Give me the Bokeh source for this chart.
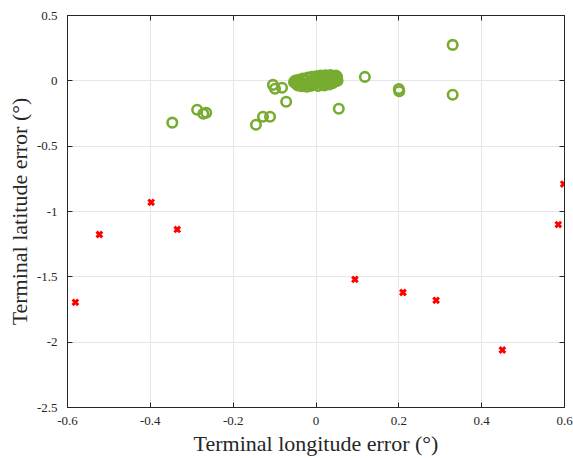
from bokeh.plotting import figure
from bokeh.models import FixedTicker, LinearAxis, Range1d
from bokeh.embed import file_html
from bokeh.resources import INLINE

# Scattered green results (longitude error, latitude error), degrees
green_x = [0.33, 0.118, 0.200, 0.201, 0.33, 0.055, -0.347, -0.287, -0.272, -0.265,
           -0.104, -0.099, -0.082, -0.072, -0.145, -0.128, -0.111]
green_y = [0.275, 0.030, -0.062, -0.080, -0.107, -0.214, -0.320, -0.221, -0.252, -0.244,
           -0.031, -0.061, -0.053, -0.160, -0.336, -0.275, -0.275]

# Dense green cluster near the origin
cluster_x = [-0.053, -0.050, -0.048, -0.044, -0.042, -0.038, -0.035, -0.032, -0.028, -0.025,
             -0.022, -0.020, -0.016, -0.013, -0.010, -0.007, -0.004, 0.000, 0.002, 0.005,
             0.008, 0.011, 0.014, 0.017, 0.020, 0.023, 0.026, 0.029, 0.032, 0.035,
             0.037, 0.040, 0.043, 0.046, 0.048, 0.050, 0.052, 0.051, -0.046, -0.030,
             -0.018, -0.002, 0.012, 0.024, 0.038, 0.044]
cluster_y = [-0.010, 0.002, -0.022, -0.035, 0.008, -0.012, -0.042, 0.018, -0.025, 0.000,
             -0.045, 0.025, -0.015, -0.040, 0.030, 0.008, -0.030, 0.035, -0.010, -0.040,
             0.020, 0.040, -0.025, 0.005, -0.035, 0.042, 0.022, -0.012, -0.028, 0.045,
             0.010, -0.018, 0.030, -0.005, 0.040, 0.015, 0.000, 0.030, -0.008, 0.005,
             -0.028, 0.015, -0.005, 0.000, 0.035, 0.010]

# Red failed cases
red_x = [-0.581, -0.523, -0.398, -0.335, 0.094, 0.21, 0.29, 0.45, 0.585, 0.598]
red_y = [-1.695, -1.176, -0.93, -1.137, -1.52, -1.62, -1.68, -2.06, -1.10, -0.79]

x_ticks = [-0.6, -0.4, -0.2, 0, 0.2, 0.4, 0.6]
x_tick_labels = ["-0.6", "-0.4", "-0.2", "0", "0.2", "0.4", "0.6"]
y_ticks = [0.5, 0, -0.5, -1, -1.5, -2, -2.5]
y_tick_labels = ["0.5", "0", "-0.5", "-1", "-1.5", "-2", "-2.5"]

FONT = "Liberation Serif"
AX = "#262626"

p = figure(frame_width=497, frame_height=392, width=573, height=458,
           x_range=Range1d(-0.6, 0.6), y_range=Range1d(-2.5, 0.5),
           output_backend="svg", toolbar_location=None,
           min_border_left=67, min_border_right=9, min_border_top=15, min_border_bottom=51)
p.outline_line_color = AX
p.outline_line_width = 1
p.background_fill_color = "white"
p.border_fill_color = "white"

xa = p.xaxis[0]
ya = p.yaxis[0]
xa.ticker = FixedTicker(ticks=x_ticks)
xa.major_label_overrides = {t: l for t, l in zip(x_ticks, x_tick_labels)}
xa.axis_label = "Terminal longitude error (°)"
ya.ticker = FixedTicker(ticks=y_ticks)
ya.major_label_overrides = {t: l for t, l in zip(y_ticks, y_tick_labels)}
ya.axis_label = "Terminal latitude error (°)"

for ax in (xa, ya):
    ax.axis_line_color = AX
    ax.major_tick_line_color = AX
    ax.major_tick_in = 5
    ax.major_tick_out = 0
    ax.minor_tick_line_color = None
    ax.major_label_text_font = FONT
    ax.major_label_text_font_size = "13px"
    ax.major_label_text_color = AX
    ax.axis_label_text_font = FONT
    ax.axis_label_text_font_size = "22px"
    ax.axis_label_text_font_style = "normal"
    ax.axis_label_text_color = AX
xa.major_label_standoff = 9
xa.axis_label_standoff = 3
ya.major_label_standoff = 10
ya.axis_label_standoff = 2

for side, ticks in (("above", x_ticks), ("right", y_ticks)):
    a = LinearAxis(ticker=FixedTicker(ticks=ticks),
                   major_label_overrides={t: "" for t in ticks},
                   major_tick_in=5, major_tick_out=0, minor_tick_line_color=None,
                   axis_line_color=AX, major_tick_line_color=AX, major_label_standoff=0)
    p.add_layout(a, side)

p.grid.grid_line_color = "#e6e6e6"
p.grid.grid_line_width = 1

GREEN = "#77AC30"
p.scatter(cluster_x, cluster_y, marker="circle", size=9.5, fill_color=None,
          line_color=GREEN, line_width=2.6)
p.scatter(green_x, green_y, marker="circle", size=9.5, fill_color=None,
          line_color=GREEN, line_width=2.6)
p.scatter(red_x, red_y, marker="x", size=8, line_color="#FF0000", line_width=3)

open("out.html", "w").write(file_html(p, INLINE))
